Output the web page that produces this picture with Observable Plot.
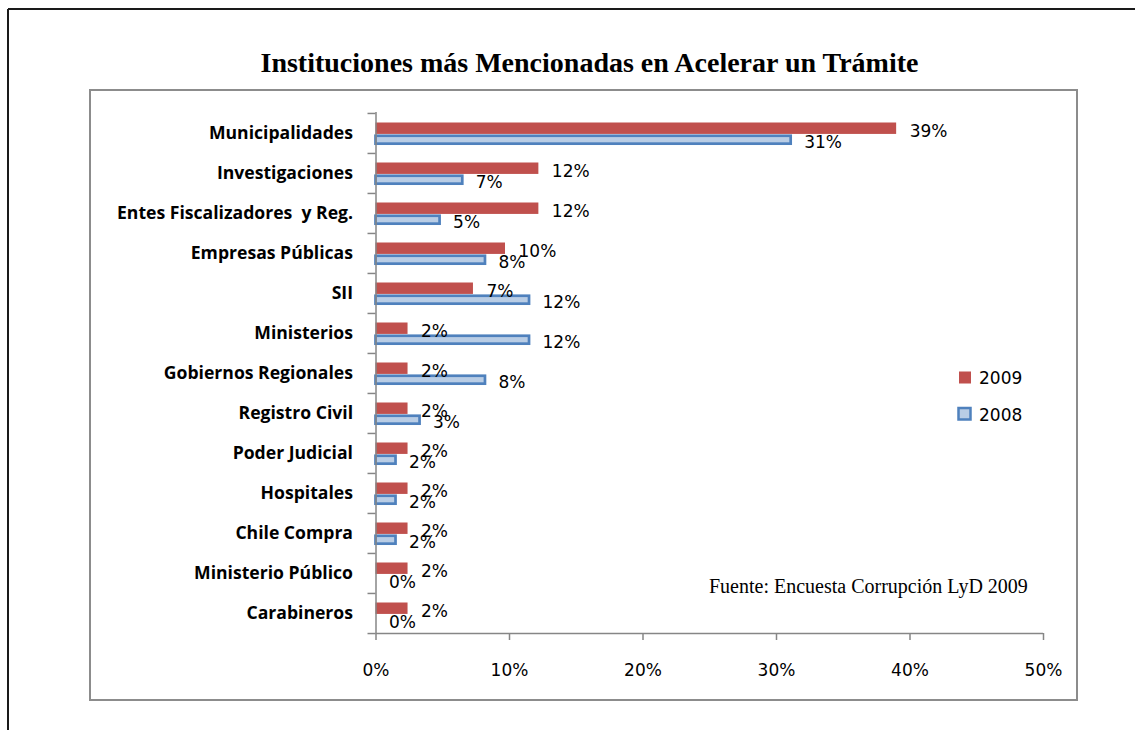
<!DOCTYPE html>
<html><head><meta charset="utf-8">
<script src="https://cdn.jsdelivr.net/npm/d3@7"></script>
<script src="https://cdn.jsdelivr.net/npm/@observablehq/plot@0.6"></script>
<style>
html,body{margin:0;padding:0;background:#fff;}
#wrap{position:relative;width:1135px;height:730px;overflow:hidden;}
#wrap svg{position:absolute;left:0;top:0;}
</style>
</head><body>
<div id="wrap"></div>
<script>
const categories = ["Municipalidades","Investigaciones","Entes Fiscalizadores  y Reg.","Empresas Públicas","SII","Ministerios","Gobiernos Regionales","Registro Civil","Poder Judicial","Hospitales","Chile Compra","Ministerio Público","Carabineros"];
const v2009 = [39.0, 12.2, 12.2, 9.7, 7.3, 2.4, 2.4, 2.4, 2.4, 2.4, 2.4, 2.4, 2.4];
const v2008 = [31.1, 6.5, 4.8, 8.2, 11.5, 11.5, 8.2, 3.3, 1.5, 1.5, 1.5, 0, 0];
const xTicks = [0, 10, 20, 30, 40, 50];
const seriesNames = ["2009", "2008"];
const titleText = "Instituciones más Mencionadas en Acelerar un Trámite";
const sourceText = "Fuente: Encuesta Corrupción LyD 2009";

const RED = "#C0504D", BLUE_FILL = "#B9CDE5", BLUE_STROKE = "#4F81BD", AXIS = "#868686";
const W = 1135, H = 730;
const mTop = 112, mBottom = 97, mLeft = 375.5, mRight = 92;
const step = (H - mTop - mBottom) / categories.length;

const rows2009 = categories.map((c, i) => ({cat: c, v: v2009[i]}));
const rows2008 = categories.map((c, i) => ({cat: c, v: v2008[i]}));
const numFont = "DejaVu Sans";

const chart = Plot.plot({
  width: W, height: H,
  marginTop: mTop, marginBottom: mBottom, marginLeft: mLeft, marginRight: mRight,
  style: {background: "transparent", overflow: "visible"},
  x: {domain: [0, 50], label: null},
  y: {domain: categories, padding: 0, label: null},
  marks: [
    Plot.barX(rows2009, {y: "cat", x: "v", fill: RED, insetTop: 9.5, insetBottom: step - 21}),
    Plot.barX(rows2008.filter(d => d.v > 0), {y: "cat", x: "v", fill: BLUE_FILL, stroke: BLUE_STROKE, strokeWidth: 2.7, insetTop: 22.75, insetBottom: step - 30.75}),
    Plot.ruleX([0], {stroke: AXIS, strokeWidth: 1.5}),
    Plot.ruleY([categories[categories.length - 1]], {dy: step / 2, stroke: AXIS, strokeWidth: 1.5}),
    Plot.axisX({ticks: xTicks, label: null, tickSize: 7, tickPadding: 23, tickFormat: d => d + "%", stroke: AXIS, strokeWidth: 1.5, fill: "#000", fontFamily: numFont, fontSize: 17}),
    Plot.axisY({label: null, tickSize: 8, dy: -step / 2, tickFormat: () => "", stroke: AXIS, strokeWidth: 1.5}),
    Plot.axisY({label: null, ticks: [categories[categories.length - 1]], tickSize: 8, dy: step / 2, tickFormat: () => "", stroke: AXIS, strokeWidth: 1.5}),
    Plot.axisY({label: null, tickSize: 0, tickPadding: 23, fill: "#000", fontFamily: "Open Sans", fontWeight: "bold", fontSize: 17.6}),
    Plot.text(rows2009, {y: "cat", x: "v", text: d => Math.round(d.v) + "%", textAnchor: "start", dx: 13, dy: -2.3, fill: "#000", fontFamily: numFont, fontSize: 17}),
    Plot.text(rows2008, {y: "cat", x: "v", text: d => Math.round(d.v) + "%", textAnchor: "start", dx: 13, dy: 9, fill: "#000", fontFamily: numFont, fontSize: 17})
  ]
});

const wrap = document.getElementById("wrap");
const deco = d3.create("svg").attr("width", W).attr("height", H);
deco.append("line").attr("x1", 8).attr("y1", 9).attr("x2", W).attr("y2", 9).attr("stroke", "#1a1a1a").attr("stroke-width", 2);
deco.append("line").attr("x1", 8).attr("y1", 9).attr("x2", 8).attr("y2", H).attr("stroke", "#1a1a1a").attr("stroke-width", 2);
deco.append("rect").attr("x", 90).attr("y", 90).attr("width", 987).attr("height", 610).attr("fill", "none").attr("stroke", "#8c8c8c").attr("stroke-width", 2);
deco.append("text").attr("x", 589.5).attr("y", 72).attr("text-anchor", "middle")
  .attr("font-family", "Liberation Serif").attr("font-weight", "bold").attr("font-size", 28).text(titleText);
deco.append("text").attr("x", 709).attr("y", 593)
  .attr("font-family", "Liberation Serif").attr("font-size", 20).text(sourceText);
deco.append("rect").attr("x", 959).attr("y", 371.5).attr("width", 12).attr("height", 12).attr("fill", RED);
deco.append("rect").attr("x", 958.5).attr("y", 408).attr("width", 12).attr("height", 11.5).attr("fill", BLUE_FILL).attr("stroke", BLUE_STROKE).attr("stroke-width", 2.5);
deco.append("text").attr("x", 979).attr("y", 384).attr("font-family", numFont).attr("font-size", 17).text(seriesNames[0]);
deco.append("text").attr("x", 979).attr("y", 421).attr("font-family", numFont).attr("font-size", 17).text(seriesNames[1]);

wrap.appendChild(deco.node());
wrap.appendChild(chart);
</script>
</body></html>
